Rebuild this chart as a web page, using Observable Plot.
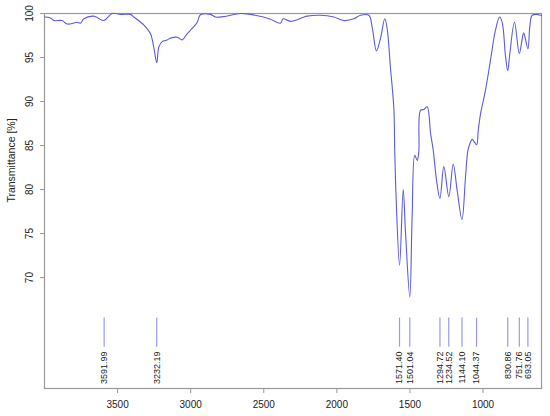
<!DOCTYPE html>
<html>
<head>
<meta charset="utf-8">
<script src="https://cdn.jsdelivr.net/npm/d3@7"></script>
<script src="https://cdn.jsdelivr.net/npm/@observablehq/plot@0.6"></script>
<style>
  html, body { margin: 0; padding: 0; background: #fff; }
  #chart { width: 550px; height: 416px; }
</style>
</head>
<body>
<div id="chart"></div>
<script>
// Spectrum: wavenumber (cm-1) and transmittance (%)
const wavenumber = [4000,3959,3936,3879,3845,3776,3754,3731,3663,3595,3537,3480,3412,3389,3321,3275,3253,3232,3218,3195,3161,3138,3092,3058,3024,2990,2955,2933,2864,2830,2775,2659,2591,2502,2454,2386,2367,2317,2203,2112,2021,1952,1884,1838,1781,1758,1729,1701,1672,1656,1633,1610,1604,1594,1571,1546,1530,1501,1485,1467,1450,1439,1428,1405,1382,1359,1341,1318,1295,1268,1234,1204,1177,1144,1120,1104,1090,1074,1044,1033,1017,983,949,915,887,869,846,831,817,785,752,733,722,693,680,664,630,607,600];
const transmittance = [99.6,99.5,99.2,99.2,98.8,99.0,98.9,99.4,99.7,99.2,100,99.9,99.9,99.6,98.7,97.7,96.2,94.4,96.2,96.8,97.0,97.2,97.3,97.0,97.7,98.3,99.0,99.85,99.9,99.6,99.65,100,99.9,99.6,99.35,98.9,99.4,99.1,99.7,99.8,99.6,99.2,99.4,99.8,99.8,98.4,95.75,97.2,99.4,98.3,93.8,89.2,84.4,78.8,71.4,80.0,75.0,67.8,76.9,83.9,83.3,84.4,89.0,89.1,89.4,86.4,84.5,81.05,79.0,82.6,79.2,82.9,79.9,76.6,81.4,84.4,85.2,85.7,85.1,86.7,88.6,91.3,94.7,98.1,99.6,99.0,95.1,93.5,95.4,99.0,95.45,97.0,97.8,96.0,98.5,99.8,99.9,99.8,99.8];

// Peak annotations
const peakPositions = [3591.99,3232.19,1571.40,1501.04,1294.72,1234.52,1144.10,1044.37,830.86,751.76,693.05];
const peakLabels = ["3591.99","3232.19","1571.40","1501.04","1294.72","1234.52","1144.10","1044.37","830.86","751.76","693.05"];

// Axis ticks
const xTicks = [3500,3000,2500,2000,1500,1000];
const yTicks = [70,75,80,85,90,95,100];
const yLabel = "Transmittance [%]";

const spectrum = wavenumber.map((w, i) => ({w, t: transmittance[i]}));
const peaks = peakPositions.map((p, i) => ({p, label: peakLabels[i]}));

const font = "'Liberation Sans', Arial, Helvetica, sans-serif";

const chart = Plot.plot({
  width: 550,
  height: 416,
  marginLeft: 44,
  marginRight: 9,
  marginTop: 13,
  marginBottom: 28,
  style: {fontFamily: font, fontSize: "10px", color: "#222", background: "#fff"},
  x: {domain: [4000, 600], axis: null},
  y: {domain: [57.4, 100], axis: null},
  marks: [
    Plot.frame({stroke: "#999", strokeWidth: 1.2}),
    Plot.axisX({ticks: xTicks, tickSize: 5, tickPadding: 7, stroke: "#999", fill: "#222", fontSize: 10, label: null, tickFormat: d => String(d)}),
    Plot.axisY({ticks: yTicks, tickSize: 4, stroke: "#999", label: null, tickFormat: () => ""}),
    Plot.text(yTicks, {x: 4000, y: d => d, text: d => String(d), rotate: -90, dx: -15, textAnchor: "middle", fill: "#222", fontSize: 10}),
    Plot.text([yLabel], {x: 4000, y: 83.3, text: d => d, rotate: -90, dx: -33, textAnchor: "middle", fill: "#222", fontSize: 10.5}),
    Plot.ruleX(peaks, {x: "p", y1: 65.4, y2: 62.1, stroke: "#9a9aec", strokeWidth: 1.2}),
    Plot.text(peaks, {x: "p", y: 61.6, text: "label", rotate: -90, textAnchor: "end", fill: "#222", fontSize: 9}),
    Plot.line(spectrum, {x: "w", y: "t", stroke: "#5b5bdc", strokeWidth: 1.1, curve: "catmull-rom"})
  ]
});
document.getElementById("chart").appendChild(chart);
</script>
</body>
</html>
